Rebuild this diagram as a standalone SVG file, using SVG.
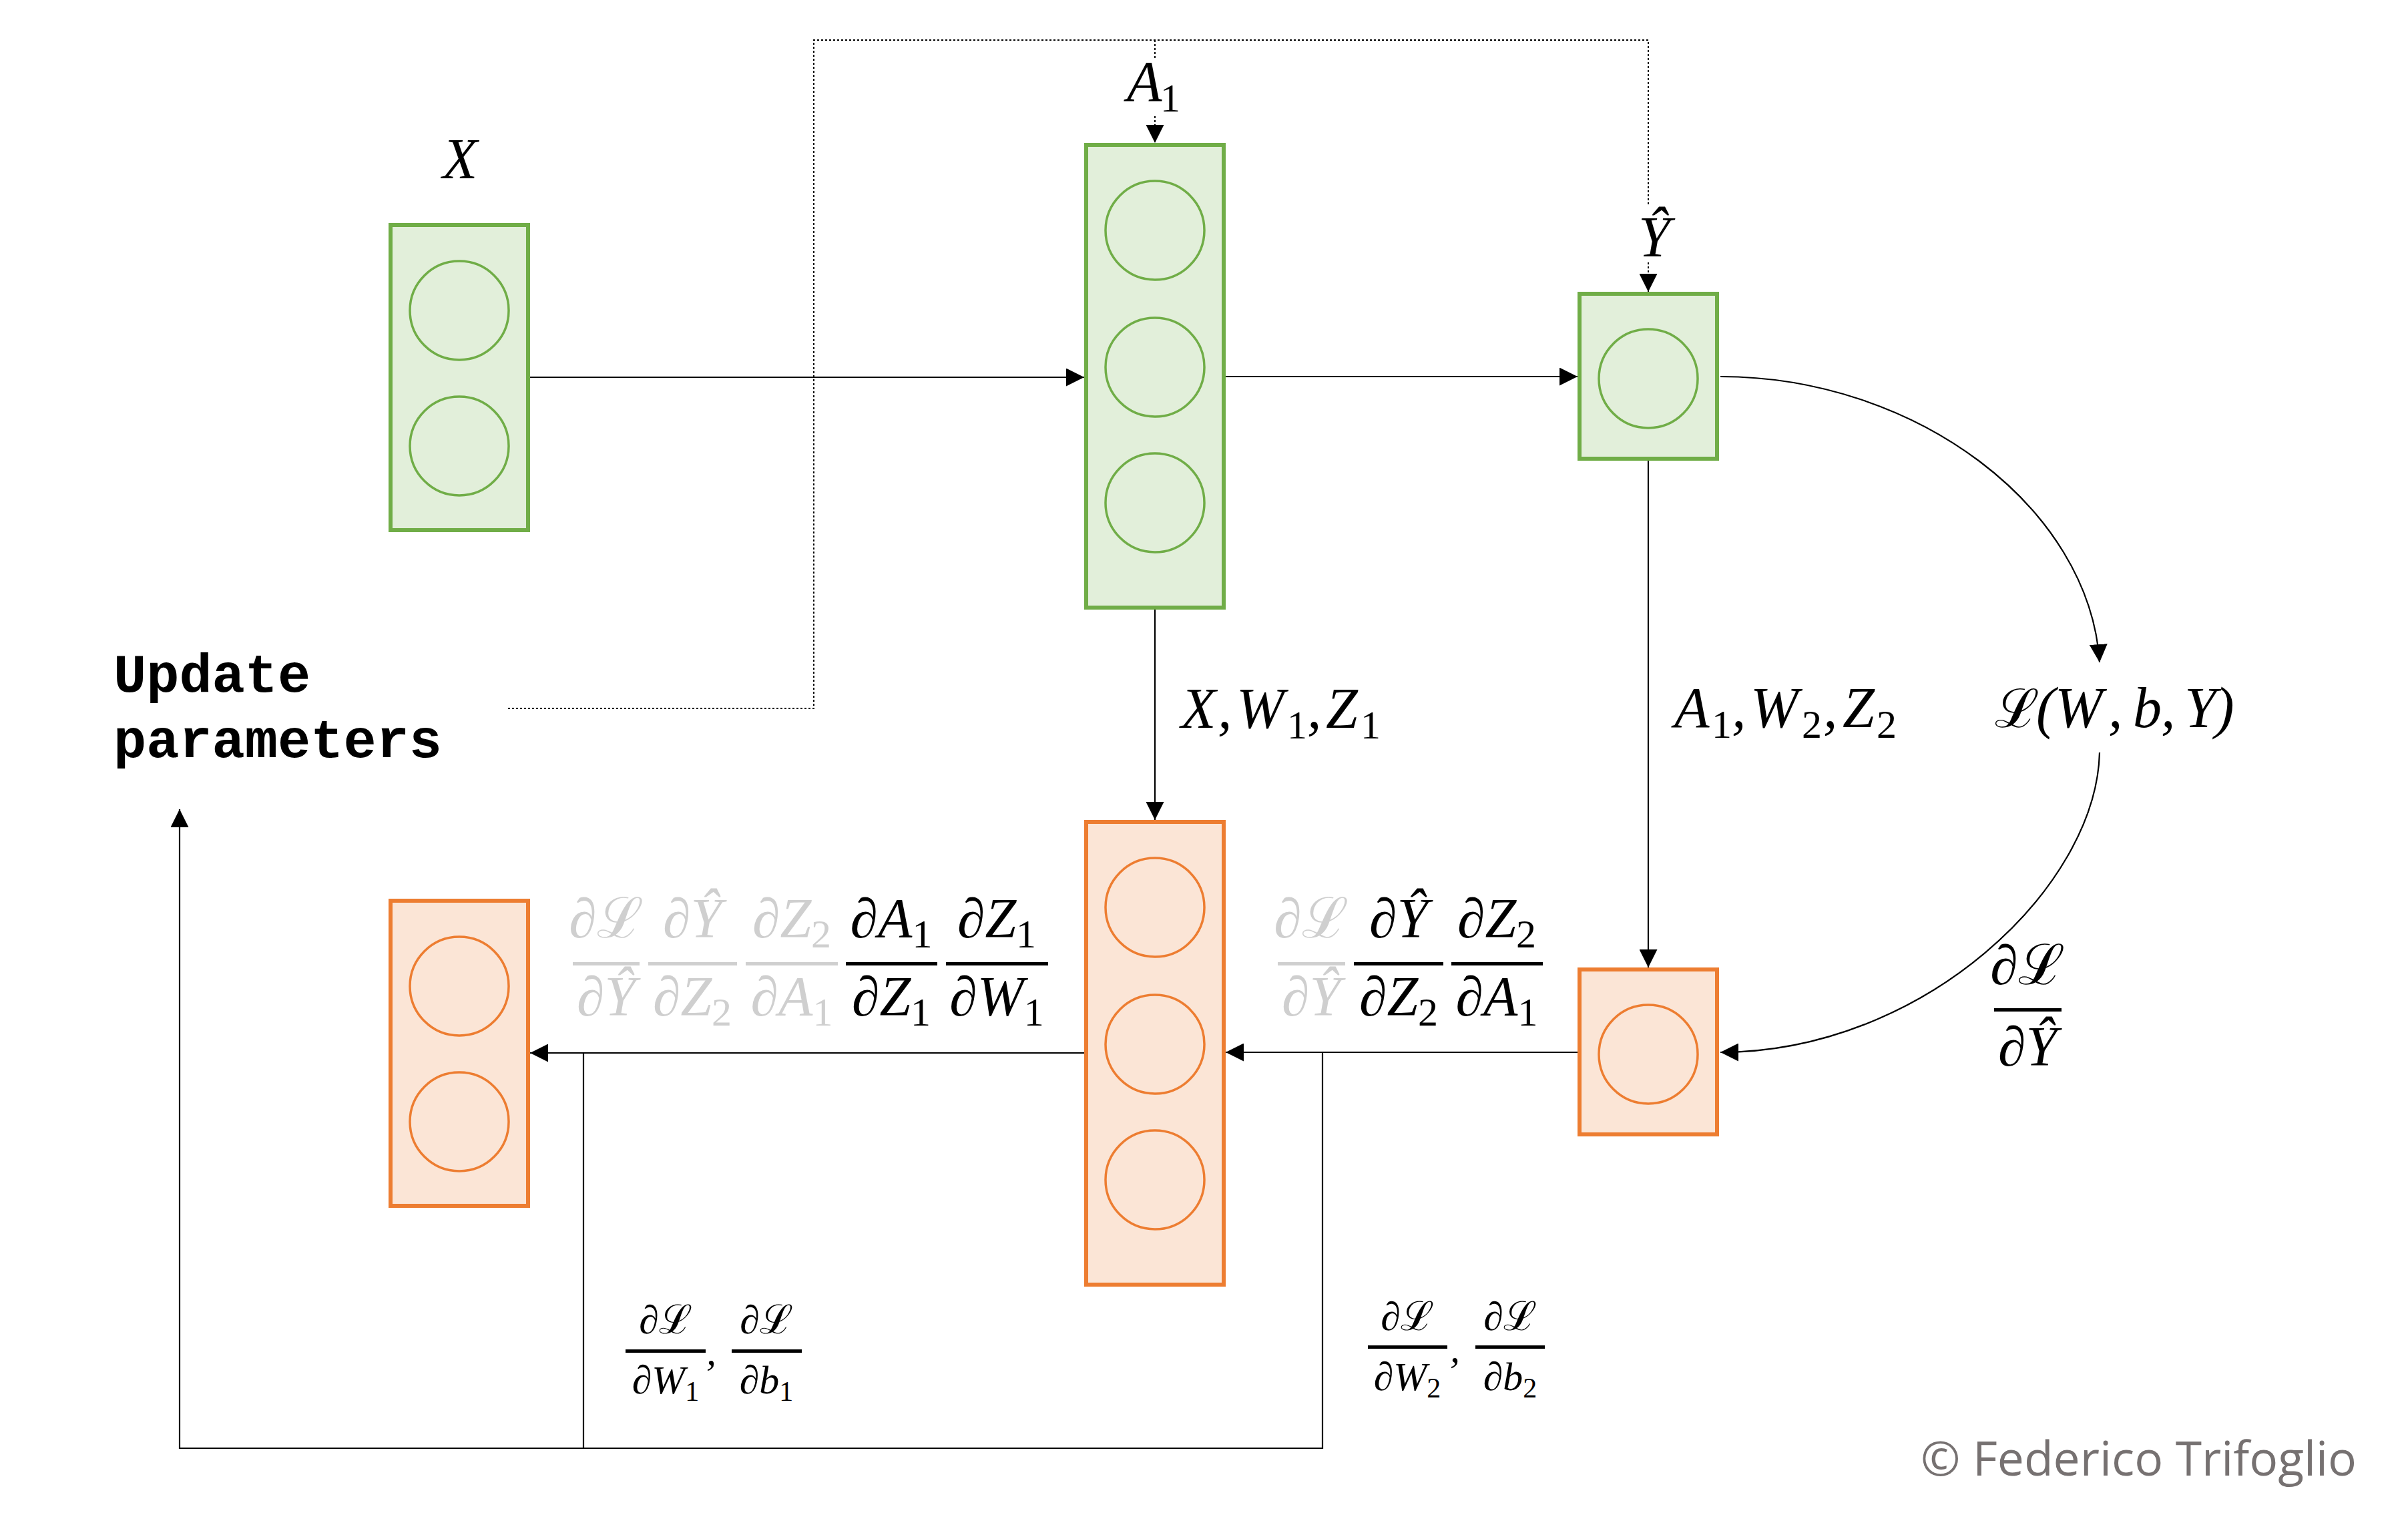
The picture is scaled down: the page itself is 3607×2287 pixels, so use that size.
<svg xmlns="http://www.w3.org/2000/svg" width="3607" height="2287" viewBox="0 0 3607 2287">
<style>
.gb{fill:#e2efda;stroke:#70ad47;stroke-width:6}
.gc{fill:#e2efda;stroke:#70ad47;stroke-width:3.5}
.ob{fill:#fbe5d6;stroke:#ed7d31;stroke-width:6}
.oc{fill:#fbe5d6;stroke:#ed7d31;stroke-width:3.5}
.ln{fill:none;stroke:#000;stroke-width:2.2}
.dt{fill:none;stroke:#000;stroke-width:2;stroke-dasharray:3 3}
.m{font-family:"Liberation Serif","DejaVu Serif",serif;font-style:italic;font-size:86px;fill:#000}
.s{font-style:normal;font-size:60px}
.L{font-style:normal}
.f{font-family:"Liberation Serif","DejaVu Serif",serif;font-style:italic;font-size:84px}
.sf{font-family:"Liberation Serif","DejaVu Serif",serif;font-style:italic;font-size:60px;fill:#000}
.ss{font-style:normal;font-size:42px}
.g{fill:#cfcfcf}
.k{fill:#000}
.mono{font-family:"Liberation Mono","Courier New",monospace;font-weight:bold;font-size:82px;fill:#000}
.copy{font-family:"Open Sans","Noto Sans",sans-serif;font-size:72px;fill:#767171}
</style>
<defs>
<marker id="ah" markerUnits="userSpaceOnUse" viewBox="0 0 27 27" markerWidth="27" markerHeight="27" refX="27" refY="13.5" orient="auto">
<path d="M0,0 L27,13.5 L0,27 z" fill="#000"/>
</marker>
</defs>

<g id="connectors">
<path class="ln" d="M794,565 H1624" marker-end="url(#ah)"/>
<path class="ln" d="M1836,564 H2363" marker-end="url(#ah)"/>
<path class="ln" d="M2577,564 C2870,564 3130,760 3145,992" marker-end="url(#ah)"/>
<path class="ln" d="M1730,913 V1228" marker-end="url(#ah)"/>
<path class="ln" d="M2469,690 V1449" marker-end="url(#ah)"/>
<path class="ln" d="M3145,1127 C3140,1330 2880,1576 2577,1576" marker-end="url(#ah)"/>
<path class="ln" d="M2363,1576 H1836" marker-end="url(#ah)"/>
<path class="ln" d="M1624,1577 H794" marker-end="url(#ah)"/>
<path class="ln" d="M874,1577 V2169"/>
<path class="ln" d="M1981,1576 V2169 H269 V1212" marker-end="url(#ah)"/>
<path class="dt" d="M761,1061 H1219 V60 H2469 V437" marker-end="url(#ah)"/>
<path class="dt" d="M1730,60 V214" marker-end="url(#ah)"/>
</g>

<g id="node-x">
<rect class="gb" x="585" y="337" width="206" height="457"/>
<circle class="gc" cx="688" cy="465" r="74"/>
<circle class="gc" cx="688" cy="668" r="74"/>
</g>
<g id="node-a1">
<rect class="gb" x="1627" y="217" width="206" height="693"/>
<circle class="gc" cx="1730" cy="345" r="74"/>
<circle class="gc" cx="1730" cy="550" r="74"/>
<circle class="gc" cx="1730" cy="753" r="74"/>
</g>
<g id="node-yhat">
<rect class="gb" x="2366" y="440" width="206" height="247"/>
<circle class="gc" cx="2469" cy="567" r="74"/>
</g>
<g id="node-back-x">
<rect class="ob" x="585" y="1349" width="206" height="457"/>
<circle class="oc" cx="688" cy="1477" r="74"/>
<circle class="oc" cx="688" cy="1680" r="74"/>
</g>
<g id="node-back-a1">
<rect class="ob" x="1627" y="1231" width="206" height="693"/>
<circle class="oc" cx="1730" cy="1359" r="74"/>
<circle class="oc" cx="1730" cy="1564" r="74"/>
<circle class="oc" cx="1730" cy="1767" r="74"/>
</g>
<g id="node-back-yhat">
<rect class="ob" x="2366" y="1452" width="206" height="247"/>
<circle class="oc" cx="2469" cy="1579" r="74"/>
</g>

<g id="labels">
<text class="m" x="689" y="267" text-anchor="middle">X</text>
<rect x="1682" y="88" width="92" height="84" fill="#fff"/>
<text class="m" y="151"><tspan x="1688">A</tspan><tspan class="s" x="1738" y="167">1</tspan></text>
<rect x="2446" y="306" width="64" height="86" fill="#fff"/>
<text class="m" x="2478" y="384" text-anchor="middle">Ŷ</text>

<text class="m" y="1090"><tspan x="1769">X</tspan><tspan x="1824">,</tspan><tspan x="1852">W</tspan><tspan class="s" x="1928" y="1106">1</tspan><tspan x="1958" y="1090">,</tspan><tspan x="1986">Z</tspan><tspan class="s" x="2038" y="1106">1</tspan></text>
<text class="m" y="1089"><tspan x="2508">A</tspan><tspan class="s" x="2564" y="1105">1</tspan><tspan x="2594" y="1089">,</tspan><tspan x="2622">W</tspan><tspan class="s" x="2699" y="1105">2</tspan><tspan x="2731" y="1089">,</tspan><tspan x="2760">Z</tspan><tspan class="s" x="2811" y="1105">2</tspan></text>
<text class="m" y="1089"><tspan class="L" x="2988" font-size="80">ℒ</tspan><tspan x="3050">(</tspan><tspan x="3078">W</tspan><tspan x="3158">,</tspan><tspan x="3195">b</tspan><tspan x="3237">,</tspan><tspan x="3272">Y</tspan><tspan x="3318">)</tspan></text>

<text class="f k" x="3037" y="1474" text-anchor="middle">∂<tspan class="L">ℒ</tspan></text>
<rect x="2987" y="1510" width="101" height="5" fill="#000"/>
<text class="f k" x="3037" y="1596" text-anchor="middle">∂Ŷ</text>

<g class="f">
<text class="g" x="908" y="1404" text-anchor="middle">∂<tspan class="L">ℒ</tspan></text>
<rect class="g" x="858" y="1441" width="100" height="5"/>
<text class="g" x="908" y="1521" text-anchor="middle">∂Ŷ</text>

<text class="g" x="1037" y="1404" text-anchor="middle">∂Ŷ</text>
<rect class="g" x="971" y="1441" width="133" height="5"/>
<text class="g" x="1037" y="1521" text-anchor="middle">∂Z<tspan class="s" dy="15">2</tspan></text>

<text class="g" x="1186" y="1404" text-anchor="middle">∂Z<tspan class="s" dy="15">2</tspan></text>
<rect class="g" x="1117" y="1441" width="138" height="5"/>
<text class="g" x="1186" y="1521" text-anchor="middle">∂A<tspan class="s" dy="15">1</tspan></text>

<text class="k" x="1335" y="1404" text-anchor="middle">∂A<tspan class="s" dy="15">1</tspan></text>
<rect class="k" x="1267" y="1441" width="137" height="5"/>
<text class="k" x="1335" y="1521" text-anchor="middle">∂Z<tspan class="s" dy="15">1</tspan></text>

<text class="k" x="1493" y="1404" text-anchor="middle">∂Z<tspan class="s" dy="15">1</tspan></text>
<rect class="k" x="1417" y="1441" width="153" height="5"/>
<text class="k" x="1493" y="1521" text-anchor="middle">∂W<tspan class="s" dy="15">1</tspan></text>
</g>

<g class="f">
<text class="g" x="1964" y="1404" text-anchor="middle">∂<tspan class="L">ℒ</tspan></text>
<rect class="g" x="1914" y="1441" width="101" height="5"/>
<text class="g" x="1964" y="1521" text-anchor="middle">∂Ŷ</text>

<text class="k" x="2095" y="1404" text-anchor="middle">∂Ŷ</text>
<rect class="k" x="2028" y="1441" width="134" height="5"/>
<text class="k" x="2095" y="1521" text-anchor="middle">∂Z<tspan class="s" dy="15">2</tspan></text>

<text class="k" x="2242" y="1404" text-anchor="middle">∂Z<tspan class="s" dy="15">2</tspan></text>
<rect class="k" x="2174" y="1441" width="137" height="5"/>
<text class="k" x="2242" y="1521" text-anchor="middle">∂A<tspan class="s" dy="15">1</tspan></text>
</g>

<text class="sf" x="997" y="1997" text-anchor="middle">∂<tspan class="L">ℒ</tspan></text>
<rect x="937" y="2021" width="120" height="5" fill="#000"/>
<text class="sf" x="997" y="2087" text-anchor="middle">∂W<tspan class="ss" dy="11">1</tspan></text>
<text class="sf" x="1058" y="2044">,</text>
<text class="sf" x="1148" y="1997" text-anchor="middle">∂<tspan class="L">ℒ</tspan></text>
<rect x="1096" y="2021" width="105" height="5" fill="#000"/>
<text class="sf" x="1148" y="2087" text-anchor="middle">∂b<tspan class="ss" dy="11">1</tspan></text>

<text class="sf" x="2108" y="1992" text-anchor="middle">∂<tspan class="L">ℒ</tspan></text>
<rect x="2049" y="2015" width="119" height="5" fill="#000"/>
<text class="sf" x="2108" y="2082" text-anchor="middle">∂W<tspan class="ss" dy="11">2</tspan></text>
<text class="sf" x="2172" y="2040">,</text>
<text class="sf" x="2262" y="1992" text-anchor="middle">∂<tspan class="L">ℒ</tspan></text>
<rect x="2210" y="2015" width="104" height="5" fill="#000"/>
<text class="sf" x="2262" y="2082" text-anchor="middle">∂b<tspan class="ss" dy="11">2</tspan></text>

<text class="mono"><tspan x="170" y="1036">Update</tspan><tspan x="170" y="1134">parameters</tspan></text>
<text class="copy" x="2877" y="2210" textLength="653" lengthAdjust="spacingAndGlyphs">© Federico Trifoglio</text>
</g>
</svg>
